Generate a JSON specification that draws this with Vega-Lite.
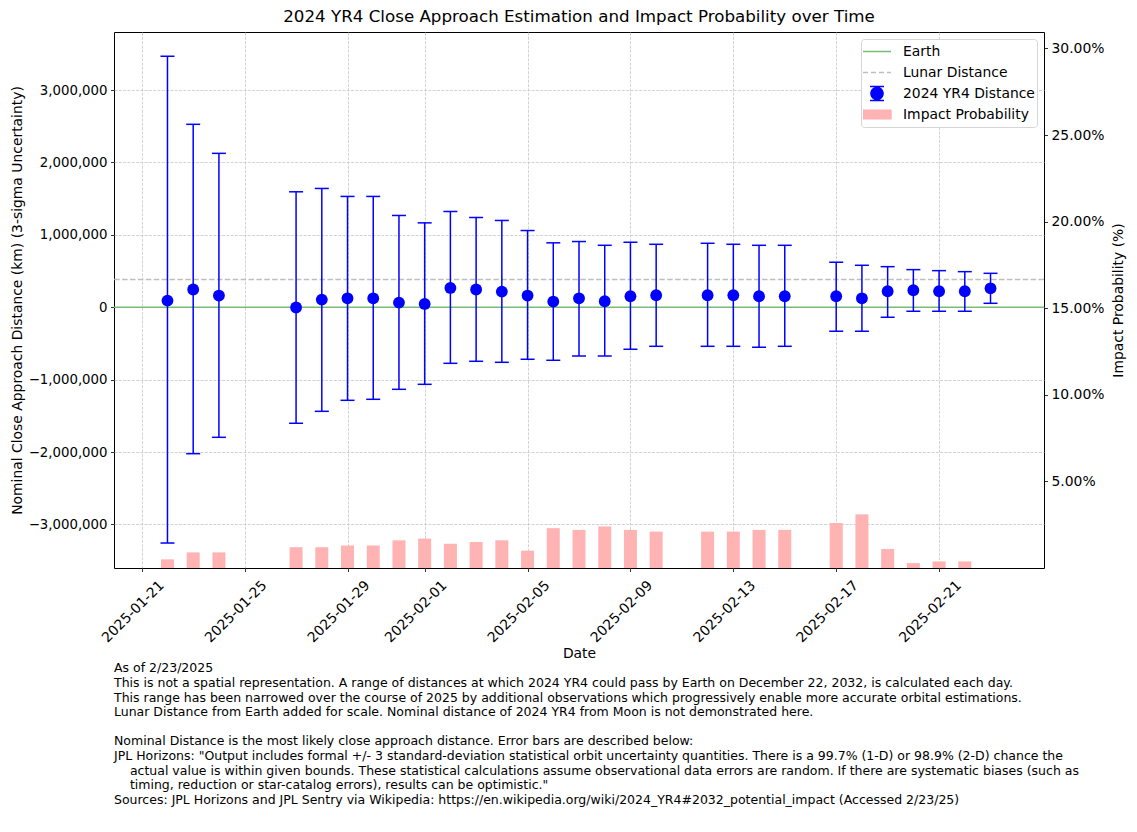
{
  "$schema": "https://vega.github.io/schema/vega-lite/v6.json",
  "background": "white",
  "padding": {"left": 9, "top": 8, "right": 10, "bottom": 5},
  "title": {
    "text": [
      "As of 2/23/2025",
      "This is not a spatial representation. A range of distances at which 2024 YR4 could pass by Earth on December 22, 2032, is calculated each day.",
      "This range has been narrowed over the course of 2025 by additional observations which progressively enable more accurate orbital estimations.",
      "Lunar Distance from Earth added for scale. Nominal distance of 2024 YR4 from Moon is not demonstrated here.",
      "\u200b\u00a0",
      "Nominal Distance is the most likely close approach distance. Error bars are described below:",
      "JPL Horizons: \"Output includes formal +/- 3 standard-deviation statistical orbit uncertainty quantities. There is a 99.7% (1-D) or 98.9% (2-D) chance the",
      "\u200b\u00a0\u00a0\u00a0\u00a0actual value is within given bounds. These statistical calculations assume observational data errors are random. If there are systematic biases (such as",
      "\u200b\u00a0\u00a0\u00a0\u00a0timing, reduction or star-catalog errors), results can be optimistic.\"",
      "Sources: JPL Horizons and JPL Sentry via Wikipedia: https://en.wikipedia.org/wiki/2024_YR4#2032_potential_impact (Accessed 2/23/25)"
    ],
    "orient": "bottom",
    "anchor": "start",
    "frame": "group",
    "dx": 0,
    "offset": 1,
    "fontSize": 12.5,
    "fontWeight": "normal",
    "lineHeight": 14.6,
    "color": "black"
  },
  "vconcat": [
    {
      "title": {
        "text": "2024 YR4 Close Approach Estimation and Impact Probability over Time",
        "fontSize": 16.7,
        "fontWeight": "normal",
        "anchor": "middle",
        "offset": 6,
        "color": "black"
      },
      "width": 930,
      "height": 536,
      "data": {
        "values": [
          {"date": "2025-01-22T00:00:00", "dist": 92000, "low": -3256000, "high": 3467000, "impact": 0.5},
          {"date": "2025-01-23T00:00:00", "dist": 245000, "low": -2022000, "high": 2527000, "impact": 0.9},
          {"date": "2025-01-24T00:00:00", "dist": 162000, "low": -1796000, "high": 2126000, "impact": 0.9},
          {"date": "2025-01-27T00:00:00", "dist": -3000, "low": -1602000, "high": 1595000, "impact": 1.2},
          {"date": "2025-01-28T00:00:00", "dist": 106000, "low": -1437000, "high": 1641000, "impact": 1.2},
          {"date": "2025-01-29T00:00:00", "dist": 124000, "low": -1285000, "high": 1531000, "impact": 1.3},
          {"date": "2025-01-30T00:00:00", "dist": 124000, "low": -1271000, "high": 1531000, "impact": 1.3},
          {"date": "2025-01-31T00:00:00", "dist": 65000, "low": -1133000, "high": 1268000, "impact": 1.6},
          {"date": "2025-02-01T00:00:00", "dist": 46000, "low": -1064000, "high": 1166000, "impact": 1.7},
          {"date": "2025-02-02T00:00:00", "dist": 267000, "low": -774000, "high": 1323000, "impact": 1.4},
          {"date": "2025-02-03T00:00:00", "dist": 245000, "low": -746000, "high": 1240000, "impact": 1.5},
          {"date": "2025-02-04T00:00:00", "dist": 217000, "low": -760000, "high": 1199000, "impact": 1.6},
          {"date": "2025-02-05T00:00:00", "dist": 162000, "low": -718000, "high": 1060000, "impact": 1.0},
          {"date": "2025-02-06T00:00:00", "dist": 79000, "low": -732000, "high": 890000, "impact": 2.3},
          {"date": "2025-02-07T00:00:00", "dist": 124000, "low": -673000, "high": 908000, "impact": 2.2},
          {"date": "2025-02-08T00:00:00", "dist": 83000, "low": -673000, "high": 856000, "impact": 2.4},
          {"date": "2025-02-09T00:00:00", "dist": 152000, "low": -580000, "high": 898000, "impact": 2.2},
          {"date": "2025-02-10T00:00:00", "dist": 166000, "low": -539000, "high": 870000, "impact": 2.1},
          {"date": "2025-02-12T00:00:00", "dist": 166000, "low": -539000, "high": 884000, "impact": 2.1},
          {"date": "2025-02-13T00:00:00", "dist": 166000, "low": -539000, "high": 870000, "impact": 2.1},
          {"date": "2025-02-14T00:00:00", "dist": 152000, "low": -552000, "high": 856000, "impact": 2.2},
          {"date": "2025-02-15T00:00:00", "dist": 152000, "low": -539000, "high": 856000, "impact": 2.2},
          {"date": "2025-02-17T00:00:00", "dist": 152000, "low": -331000, "high": 622000, "impact": 2.6},
          {"date": "2025-02-18T00:00:00", "dist": 124000, "low": -331000, "high": 580000, "impact": 3.1},
          {"date": "2025-02-19T00:00:00", "dist": 221000, "low": -138000, "high": 561000, "impact": 1.1},
          {"date": "2025-02-20T00:00:00", "dist": 235000, "low": -55000, "high": 520000, "impact": 0.28},
          {"date": "2025-02-21T00:00:00", "dist": 221000, "low": -55000, "high": 506000, "impact": 0.38},
          {"date": "2025-02-22T00:00:00", "dist": 221000, "low": -55000, "high": 492000, "impact": 0.38},
          {"date": "2025-02-23T00:00:00", "dist": 262000, "low": 55000, "high": 469000, "impact": 0.0017}
        ]
      },
      "resolve": {"scale": {"y": "independent"}},
      "layer": [
        {
          "mark": {"type": "bar", "width": 13, "opacity": 1},
          "encoding": {
            "x": {
              "field": "date", "type": "temporal", "title": "Date",
              "scale": {"domain": [{"year": 2025, "month": 1, "date": 20, "hours": 2, "minutes": 46}, {"year": 2025, "month": 2, "date": 24, "hours": 21, "minutes": 14}]},
              "axis": {
                "values": [
                  {"year": 2025, "month": 1, "date": 21}, {"year": 2025, "month": 1, "date": 25},
                  {"year": 2025, "month": 1, "date": 29}, {"year": 2025, "month": 2, "date": 1},
                  {"year": 2025, "month": 2, "date": 5}, {"year": 2025, "month": 2, "date": 9},
                  {"year": 2025, "month": 2, "date": 13}, {"year": 2025, "month": 2, "date": 17},
                  {"year": 2025, "month": 2, "date": 21}
                ],
                "format": "%Y-%m-%d",
                "labelAngle": -45,
                "labelAlign": "center",
                "labelBaseline": "middle",
                "labelPadding": 40,
                "labelOffset": -9,
                "labelFlush": false,
                "labelOverlap": false,
                "labelBound": false,
                "grid": true,
                "titlePadding": 2
              }
            },
            "y": {
              "field": "impact", "type": "quantitative",
              "scale": {"domain": [0, 30.95], "nice": false, "zero": false},
              "axis": {
                "orient": "right",
                "values": [5, 10, 15, 20, 25, 30],
                "labelExpr": "format(datum.value, '.2f') + '%'",
                "title": "Impact Probability (%)",
                "titleAngle": -90,
                "titleBaseline": "top",
                "titlePadding": 8,
                "grid": false
              }
            },
            "color": {
              "datum": "Impact Probability",
              "scale": {
                "domain": ["Earth", "Lunar Distance", "2024 YR4 Distance", "Impact Probability"],
                "range": ["#78bc78", "#bfbfbf", "#0000ff", "#ffb3b3"]
              },
              "legend": {
                "title": null, "orient": "top-right", "offset": 7, "padding": 2,
                "fillColor": "white", "strokeColor": "#d6d6d6", "cornerRadius": 3,
                "labelFontSize": 13.9, "labelColor": "black", "labelLimit": 300,
                "symbolSize": 196, "symbolOffset": -1, "labelOffset": 11, "rowPadding": 0, "clipHeight": 21, "symbolStrokeWidth": 1.5,
                "encode": {
                  "symbols": {
                    "update": {
                      "shape": {"signal": "datum.value == 'Earth' || datum.value == 'Lunar Distance' ? 'stroke' : datum.value == 'Impact Probability' ? 'M-1,-0.3H1V0.3H-1Z' : 'M-0.5,-0.5H0.5M0,-0.5V0.5M-0.5,0.5H0.5M0.43,0A0.43,0.43,0,1,1,-0.43,0A0.43,0.43,0,1,1,0.43,0Z'"},
                      "fill": {"signal": "datum.value == 'Impact Probability' ? '#ffb3b3' : datum.value == '2024 YR4 Distance' ? '#0000ff' : 'transparent'"},
                      "stroke": {"signal": "datum.value == 'Earth' ? '#78bc78' : datum.value == 'Lunar Distance' ? '#bfbfbf' : datum.value == '2024 YR4 Distance' ? '#0000ff' : 'transparent'"},
                      "strokeDash": {"signal": "datum.value == 'Lunar Distance' ? [5, 3] : [1, 0]"},
                      "size": {"value": 784},
                      "strokeWidth": {"value": 1.5},
                      "opacity": {"value": 1}
                    }
                  }
                }
              }
            }
          }
        },
        {
          "layer": [
            {
              "data": {"values": [{"km": 0}]},
              "mark": {"type": "rule", "strokeWidth": 1.5},
              "encoding": {
                "y": {
                  "field": "km", "type": "quantitative",
                  "title": "Nominal Close Approach Distance (km) (3-sigma Uncertainty)",
                  "scale": {"domain": [-3601000, 3802000], "nice": false, "zero": false},
                  "axis": {
                    "orient": "left",
                    "values": [-3000000, -2000000, -1000000, 0, 1000000, 2000000, 3000000],
                    "format": ",d",
                    "labelFontSize": 13.3,
                    "grid": true,
                    "titlePadding": 4
                  }
                },
                "color": {
                  "datum": "Earth",
                  "scale": {
                    "domain": ["Earth", "Lunar Distance", "2024 YR4 Distance", "Impact Probability"],
                    "range": ["#78bc78", "#bfbfbf", "#0000ff", "#ffb3b3"]
                  },
                  "legend": {
                    "title": null, "orient": "top-right", "offset": 7, "padding": 2,
                    "fillColor": "white", "strokeColor": "#d6d6d6", "cornerRadius": 3,
                    "labelFontSize": 13.9, "labelColor": "black", "labelLimit": 300,
                    "symbolSize": 196, "symbolOffset": -1, "labelOffset": 11, "rowPadding": 0, "clipHeight": 21, "symbolStrokeWidth": 1.5,
                    "encode": {
                      "symbols": {
                        "update": {
                          "shape": {"signal": "datum.value == 'Earth' || datum.value == 'Lunar Distance' ? 'stroke' : datum.value == 'Impact Probability' ? 'M-1,-0.3H1V0.3H-1Z' : 'M-0.5,-0.5H0.5M0,-0.5V0.5M-0.5,0.5H0.5M0.43,0A0.43,0.43,0,1,1,-0.43,0A0.43,0.43,0,1,1,0.43,0Z'"},
                          "fill": {"signal": "datum.value == 'Impact Probability' ? '#ffb3b3' : datum.value == '2024 YR4 Distance' ? '#0000ff' : 'transparent'"},
                          "stroke": {"signal": "datum.value == 'Earth' ? '#78bc78' : datum.value == 'Lunar Distance' ? '#bfbfbf' : datum.value == '2024 YR4 Distance' ? '#0000ff' : 'transparent'"},
                          "strokeDash": {"signal": "datum.value == 'Lunar Distance' ? [5, 3] : [1, 0]"},
                          "size": {"value": 784},
                          "strokeWidth": {"value": 1.5},
                          "opacity": {"value": 1}
                        }
                      }
                    }
                  }
                }
              }
            },
            {
              "data": {"values": [{"km": 384400}]},
              "mark": {"type": "rule", "strokeWidth": 1.5, "strokeDash": [5.5, 2.4]},
              "encoding": {
                "y": {"field": "km", "type": "quantitative", "title": "Nominal Close Approach Distance (km) (3-sigma Uncertainty)"},
                "color": {
                  "datum": "Lunar Distance",
                  "scale": {
                    "domain": ["Earth", "Lunar Distance", "2024 YR4 Distance", "Impact Probability"],
                    "range": ["#78bc78", "#bfbfbf", "#0000ff", "#ffb3b3"]
                  },
                  "legend": {
                    "title": null, "orient": "top-right", "offset": 7, "padding": 2,
                    "fillColor": "white", "strokeColor": "#d6d6d6", "cornerRadius": 3,
                    "labelFontSize": 13.9, "labelColor": "black", "labelLimit": 300,
                    "symbolSize": 196, "symbolOffset": -1, "labelOffset": 11, "rowPadding": 0, "clipHeight": 21, "symbolStrokeWidth": 1.5,
                    "encode": {
                      "symbols": {
                        "update": {
                          "shape": {"signal": "datum.value == 'Earth' || datum.value == 'Lunar Distance' ? 'stroke' : datum.value == 'Impact Probability' ? 'M-1,-0.3H1V0.3H-1Z' : 'M-0.5,-0.5H0.5M0,-0.5V0.5M-0.5,0.5H0.5M0.43,0A0.43,0.43,0,1,1,-0.43,0A0.43,0.43,0,1,1,0.43,0Z'"},
                          "fill": {"signal": "datum.value == 'Impact Probability' ? '#ffb3b3' : datum.value == '2024 YR4 Distance' ? '#0000ff' : 'transparent'"},
                          "stroke": {"signal": "datum.value == 'Earth' ? '#78bc78' : datum.value == 'Lunar Distance' ? '#bfbfbf' : datum.value == '2024 YR4 Distance' ? '#0000ff' : 'transparent'"},
                          "strokeDash": {"signal": "datum.value == 'Lunar Distance' ? [5, 3] : [1, 0]"},
                          "size": {"value": 784},
                          "strokeWidth": {"value": 1.5},
                          "opacity": {"value": 1}
                        }
                      }
                    }
                  }
                }
              }
            },
            {
              "mark": {"type": "rule", "color": "#0000ff", "strokeWidth": 1.5},
              "encoding": {
                "x": {
                  "field": "date", "type": "temporal", "title": "Date",
                  "scale": {"domain": [{"year": 2025, "month": 1, "date": 20, "hours": 2, "minutes": 46}, {"year": 2025, "month": 2, "date": 24, "hours": 21, "minutes": 14}]}
                },
                "y": {"field": "low", "type": "quantitative", "title": "Nominal Close Approach Distance (km) (3-sigma Uncertainty)"},
                "y2": {"field": "high"}
              }
            },
            {
              "mark": {"type": "tick", "color": "#0000ff", "thickness": 1.5, "size": 14, "orient": "horizontal", "opacity": 1},
              "encoding": {
                "x": {
                  "field": "date", "type": "temporal", "title": "Date",
                  "scale": {"domain": [{"year": 2025, "month": 1, "date": 20, "hours": 2, "minutes": 46}, {"year": 2025, "month": 2, "date": 24, "hours": 21, "minutes": 14}]}
                },
                "y": {"field": "low", "type": "quantitative", "title": "Nominal Close Approach Distance (km) (3-sigma Uncertainty)"}
              }
            },
            {
              "mark": {"type": "tick", "color": "#0000ff", "thickness": 1.5, "size": 14, "orient": "horizontal", "opacity": 1},
              "encoding": {
                "x": {
                  "field": "date", "type": "temporal", "title": "Date",
                  "scale": {"domain": [{"year": 2025, "month": 1, "date": 20, "hours": 2, "minutes": 46}, {"year": 2025, "month": 2, "date": 24, "hours": 21, "minutes": 14}]}
                },
                "y": {"field": "high", "type": "quantitative", "title": "Nominal Close Approach Distance (km) (3-sigma Uncertainty)"}
              }
            },
            {
              "mark": {"type": "point", "shape": "circle", "filled": true, "size": 140, "opacity": 1},
              "encoding": {
                "x": {
                  "field": "date", "type": "temporal", "title": "Date",
                  "scale": {"domain": [{"year": 2025, "month": 1, "date": 20, "hours": 2, "minutes": 46}, {"year": 2025, "month": 2, "date": 24, "hours": 21, "minutes": 14}]}
                },
                "y": {"field": "dist", "type": "quantitative", "title": "Nominal Close Approach Distance (km) (3-sigma Uncertainty)"},
                "color": {
                  "datum": "2024 YR4 Distance",
                  "scale": {
                    "domain": ["Earth", "Lunar Distance", "2024 YR4 Distance", "Impact Probability"],
                    "range": ["#78bc78", "#bfbfbf", "#0000ff", "#ffb3b3"]
                  },
                  "legend": {
                    "title": null, "orient": "top-right", "offset": 7, "padding": 2,
                    "fillColor": "white", "strokeColor": "#d6d6d6", "cornerRadius": 3,
                    "labelFontSize": 13.9, "labelColor": "black", "labelLimit": 300,
                    "symbolSize": 196, "symbolOffset": -1, "labelOffset": 11, "rowPadding": 0, "clipHeight": 21, "symbolStrokeWidth": 1.5,
                    "encode": {
                      "symbols": {
                        "update": {
                          "shape": {"signal": "datum.value == 'Earth' || datum.value == 'Lunar Distance' ? 'stroke' : datum.value == 'Impact Probability' ? 'M-1,-0.3H1V0.3H-1Z' : 'M-0.5,-0.5H0.5M0,-0.5V0.5M-0.5,0.5H0.5M0.43,0A0.43,0.43,0,1,1,-0.43,0A0.43,0.43,0,1,1,0.43,0Z'"},
                          "fill": {"signal": "datum.value == 'Impact Probability' ? '#ffb3b3' : datum.value == '2024 YR4 Distance' ? '#0000ff' : 'transparent'"},
                          "stroke": {"signal": "datum.value == 'Earth' ? '#78bc78' : datum.value == 'Lunar Distance' ? '#bfbfbf' : datum.value == '2024 YR4 Distance' ? '#0000ff' : 'transparent'"},
                          "strokeDash": {"signal": "datum.value == 'Lunar Distance' ? [5, 3] : [1, 0]"},
                          "size": {"value": 784},
                          "strokeWidth": {"value": 1.5},
                          "opacity": {"value": 1}
                        }
                      }
                    }
                  }
                }
              }
            }
          ]
        }
      ]
    }
  ],
  "config": {
    "font": "DejaVu Sans",
    "view": {"stroke": "black", "strokeWidth": 1},
    "axis": {
      "domain": false,
      "tickColor": "black",
      "tickSize": 3.5,
      "tickWidth": 0.8,
      "labelColor": "black",
      "labelFontSize": 13.9,
      "labelPadding": 3.5,
      "titleFontSize": 13.9,
      "titleFontWeight": "normal",
      "titleColor": "black",
      "gridColor": "#c8c8c8",
      "gridDash": [3, 1.3],
      "gridWidth": 0.8
    }
  }
}
